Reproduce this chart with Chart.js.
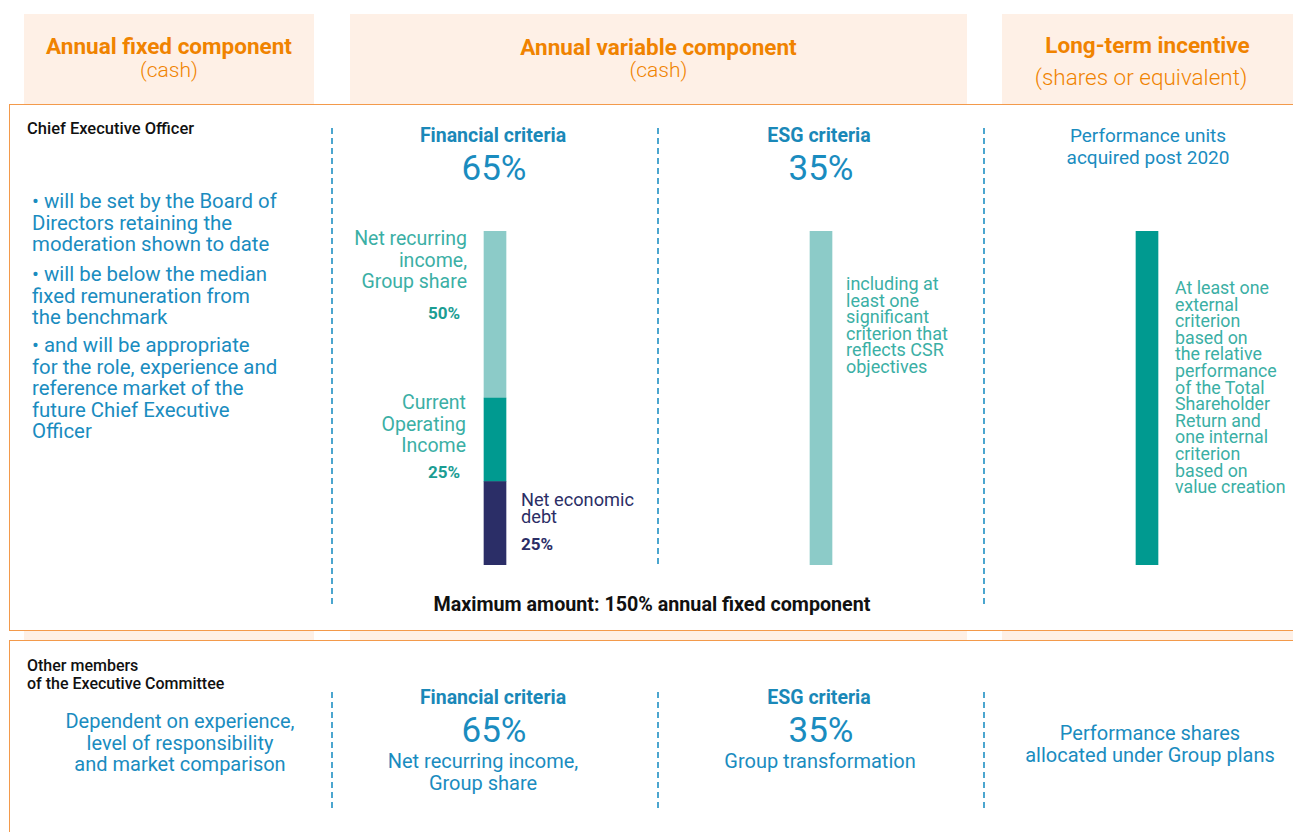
<!DOCTYPE html>
<html>
<head>
<meta charset="utf-8">
<title>Executive remuneration structure</title>
<script src="https://cdn.jsdelivr.net/npm/chart.js@4.4.1/dist/chart.umd.min.js"></script>
<style>
  body { margin: 0; width: 1293px; height: 832px; overflow: hidden; background: #fff; position: relative; font-family: Roboto, "Open Sans", sans-serif; }
  .t { position: absolute; white-space: nowrap; }
  .c { text-align: center; width: 400px; }
  .col { position: absolute; top: 14px; height: 830px; background: #fef0e6; }
  .box { position: absolute; left: 9px; width: 1300px; background: #fff; border: 1.5px solid #f39a4b; box-sizing: border-box; }
  .dash { position: absolute; width: 1.5px; background: repeating-linear-gradient(to bottom, #4ba6cf 0 6px, transparent 6px 10px); }
  .hd { color: #f08300; font-weight: 700; font-size: 22.5px; text-align: center; line-height: 26px; }
  .sub { color: #f08300; font-weight: 300; font-size: 21px; text-align: center; line-height: 24px; }
  .role { color: #111; font-weight: 500; font-size: 16.5px; line-height: 18px; }
  .blue { color: #1a8cbf; font-size: 20px; line-height: 21.5px; }
  .crit { color: #1a88b8; font-weight: 700; font-size: 19.5px; line-height: 22px; }
  .pct { color: #1a8cbf; font-size: 35px; line-height: 36px; }
  .teal { color: #3bafa5; font-size: 19.5px; line-height: 21.5px; text-align: right; }
  .tealb { color: #1b9d93; font-weight: 700; font-size: 17px; line-height: 20px; }
  .small { color: #3bafa5; font-size: 18px; line-height: 16.6px; }
  .navy { color: #2b2e66; font-size: 18.2px; line-height: 17px; }
</style>
</head>
<body>

<!-- header columns -->
<div class="col" style="left:24px;width:290px"></div>
<div class="col" style="left:350px;width:617px"></div>
<div class="col" style="left:1002px;width:300px"></div>

<div class="t hd" style="left:24px;width:290px;top:33px">Annual fixed component</div>
<div class="t sub" style="left:24px;width:290px;top:58px">(cash)</div>
<div class="t hd" style="left:350px;width:617px;top:34px">Annual variable component</div>
<div class="t sub" style="left:350px;width:617px;top:58px">(cash)</div>
<div class="t hd" style="left:1002px;width:291px;top:32px">Long-term incentive</div>
<div class="t sub" style="left:1002px;width:278px;top:65px;font-size:22.5px">(shares or equivalent)</div>

<!-- Chief Executive Officer block -->
<div class="box" style="top:104px;height:527px"></div>
<div class="box" style="top:640px;height:210px"></div>

<div class="dash" style="left:331px;top:128px;height:476px"></div>
<div class="dash" style="left:657px;top:128px;height:436px"></div>
<div class="dash" style="left:983px;top:128px;height:476px"></div>
<div class="dash" style="left:331px;top:692px;height:116px"></div>
<div class="dash" style="left:657px;top:692px;height:116px"></div>
<div class="dash" style="left:983px;top:692px;height:116px"></div>

<div class="t role" style="left:27px;top:120px">Chief Executive Officer</div>

<div class="t blue" style="left:32px;top:191px;font-size:20.4px">• will be set by the Board of<br>Directors retaining the<br>moderation shown to date</div>
<div class="t blue" style="left:32px;top:264px;font-size:20.4px">• will be below the median<br>fixed remuneration from<br>the benchmark</div>
<div class="t blue" style="left:32px;top:335px;font-size:20.4px">• and will be appropriate<br>for the role, experience and<br>reference market of the<br>future Chief Executive<br>Officer</div>

<div class="t crit c" style="left:293px;top:125px">Financial criteria</div>
<div class="t pct c" style="left:294px;top:151px">65%</div>
<div class="t crit c" style="left:619px;top:125px">ESG criteria</div>
<div class="t pct c" style="left:621px;top:151px">35%</div>
<div class="t blue c" style="left:948px;top:125px;font-size:19px">Performance units<br>acquired post 2020</div>

<div class="t teal" style="left:267px;width:200px;top:228px">Net recurring<br>income,<br>Group share</div>
<div class="t tealb" style="left:260px;width:200px;top:303px;text-align:right">50%</div>
<div class="t teal" style="left:266px;width:200px;top:392px">Current<br>Operating<br>Income</div>
<div class="t tealb" style="left:260px;width:200px;top:462px;text-align:right">25%</div>
<div class="t navy" style="left:521px;top:491px">Net economic<br>debt</div>
<div class="t tealb" style="left:521px;top:534px;color:#2b2e66">25%</div>

<div class="t small" style="left:846px;top:276px">including at<br>least one<br>significant<br>criterion that<br>reflects CSR<br>objectives</div>
<div class="t small" style="left:1175px;top:280px;font-size:17.8px">At least one<br>external<br>criterion<br>based on<br>the relative<br>performance<br>of the Total<br>Shareholder<br>Return and<br>one internal<br>criterion<br>based on<br>value creation</div>

<div class="t" style="left:352px;width:600px;top:594px;text-align:center;font-weight:700;font-size:19.7px;line-height:22px;color:#111">Maximum amount: 150% annual fixed component</div>

<!-- Other members of the Executive Committee block -->
<div class="t role" style="left:27px;top:657px;font-size:16px">Other members<br>of the Executive Committee</div>
<div class="t blue c" style="left:-20px;top:711px">Dependent on experience,<br>level of responsibility<br>and market comparison</div>

<div class="t crit c" style="left:293px;top:687px">Financial criteria</div>
<div class="t pct c" style="left:294px;top:713px">65%</div>
<div class="t blue c" style="left:283px;top:751px">Net recurring income,<br>Group share</div>
<div class="t crit c" style="left:619px;top:687px">ESG criteria</div>
<div class="t pct c" style="left:621px;top:713px">35%</div>
<div class="t blue c" style="left:620px;top:751px">Group transformation</div>
<div class="t blue c" style="left:950px;top:723px">Performance shares<br>allocated under Group plans</div>

<!-- bars -->
<div class="t" style="left:332px;top:231px;width:978px;height:334px">
  <canvas id="bars" width="978" height="334"></canvas>
</div>

<script>
// the three bars, one per criterion column
const columns = ['Financial criteria', 'ESG criteria', 'Long-term incentive'];
// weights in % of each bar, bottom to top
const netEconomicDebt = [25, null, null];
const currentOperatingIncome = [25, null, null];
const netRecurringIncome = [50, null, null];
const esgCriteria = [null, 100, null];
const longTermIncentive = [null, null, 100];

const ctx = document.getElementById('bars');

new Chart(ctx, {
  type: 'bar',
  data: {
    labels: columns,
    datasets: [
      { label: 'Net economic debt', data: netEconomicDebt, backgroundColor: '#2b2e67' },
      { label: 'Current Operating Income', data: currentOperatingIncome, backgroundColor: '#009a90' },
      { label: 'Net recurring income, Group share', data: netRecurringIncome, backgroundColor: '#8ccbc8' },
      { label: 'ESG criteria', data: esgCriteria, backgroundColor: '#8ccbc8' },
      { label: 'Long-term incentive', data: longTermIncentive, backgroundColor: '#009a90' }
    ]
  },
  options: {
    responsive: false,
    animation: false,
    barThickness: 22,
    borderWidth: 0,
    layout: { padding: 0 },
    plugins: {
      legend: { display: false },
      tooltip: { enabled: false }
    },
    scales: {
      x: { stacked: true, display: false },
      y: { stacked: true, display: false, min: 0, max: 100 }
    }
  }
});
</script>
</body>
</html>
